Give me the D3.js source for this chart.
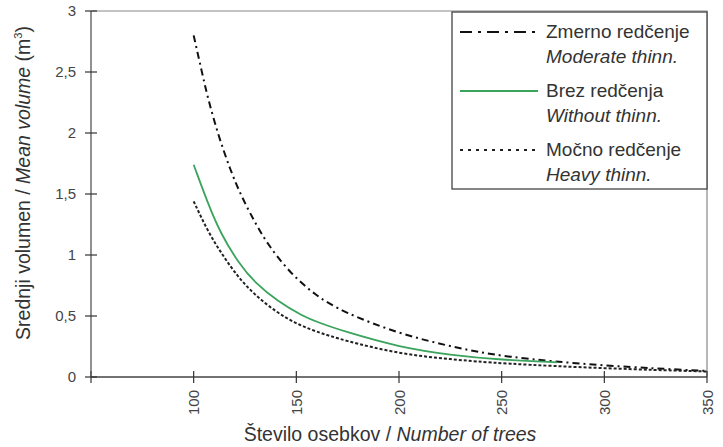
<!DOCTYPE html>
<html>
<head>
<meta charset="utf-8">
<script src="https://cdn.jsdelivr.net/npm/d3@7"></script>
<style>
  body { margin: 0; background: #fff; }
  svg { display: block; font-family: "Liberation Sans", Arial, sans-serif; }
</style>
</head>
<body>
<svg id="chart" width="723" height="447"></svg>
<script>
// number of trees / mean volume, read per series
var moderateN = [100, 104, 107, 112, 118, 123, 130, 136, 146, 159, 173, 200, 225, 250, 300, 350];
var moderateV = [2.80, 2.50, 2.28, 1.98, 1.69, 1.49, 1.26, 1.09, 0.87, 0.67, 0.53, 0.355, 0.25, 0.165, 0.09, 0.05];

var withoutN = [100, 107, 113, 122, 130, 141, 153, 161, 173, 200, 225, 250, 277];
var withoutV = [1.74, 1.42, 1.18, 0.93, 0.77, 0.62, 0.50, 0.445, 0.375, 0.245, 0.18, 0.14, 0.12];

var heavyN = [100, 107, 114, 122, 130, 140, 149, 159, 173, 200, 225, 250, 300, 350];
var heavyV = [1.44, 1.19, 1.00, 0.81, 0.67, 0.535, 0.445, 0.375, 0.30, 0.19, 0.145, 0.11, 0.07, 0.045];

var xTicks = [50, 100, 150, 200, 250, 300, 350];
var yTicks = [0, 0.5, 1, 1.5, 2, 2.5, 3];

var legendItems = [
  { name: "Zmerno redčenje", en: "Moderate thinn." },
  { name: "Brez redčenja", en: "Without thinn." },
  { name: "Močno redčenje", en: "Heavy thinn." }
];

var svg = d3.select("#chart");

var x = d3.scaleLinear().domain([50, 350]).range([91, 707]);
var y = d3.scaleLinear().domain([0, 3]).range([377, 11]);

var GREEN = "#3aa35c";
var styles = [
  { color: "#111", width: 2, dash: "7,4,2,4", legendDash: "12,6,3,6" },
  { color: GREEN, width: 1.8, dash: null, legendDash: null },
  { color: "#222", width: 2, dash: "3,2", legendDash: "3,5" }
];

// frame (top + right)
svg.append("path")
  .attr("d", "M" + x(50) + "," + y(3) + "H" + x(350) + "V" + y(0))
  .attr("fill", "none").attr("stroke", "#888").attr("stroke-width", 1.2);

// x axis
svg.append("line")
  .attr("x1", x(50)).attr("x2", x(350)).attr("y1", y(0)).attr("y2", y(0))
  .attr("stroke", "#444").attr("stroke-width", 1.3);
svg.selectAll(".xtick").data(xTicks).enter().append("line")
  .attr("x1", function(d){ return x(d); }).attr("x2", function(d){ return x(d); })
  .attr("y1", y(0) - 6).attr("y2", y(0) + 6)
  .attr("stroke", "#333").attr("stroke-width", 1.2);
svg.selectAll(".xlab").data(xTicks.filter(function(d){ return d > 50; })).enter().append("text")
  .attr("transform", function(d){ return "translate(" + (x(d) + 5.5) + "," + 390 + ") rotate(-90)"; })
  .attr("text-anchor", "end")
  .attr("font-size", 15).attr("fill", "#444")
  .text(function(d){ return d; });

// y axis
svg.append("line")
  .attr("x1", x(50)).attr("x2", x(50)).attr("y1", y(0)).attr("y2", y(3))
  .attr("stroke", "#555").attr("stroke-width", 1.3);
svg.selectAll(".ytick").data(yTicks).enter().append("line")
  .attr("x1", x(50) - 6).attr("x2", x(50) + 6)
  .attr("y1", function(d){ return y(d); }).attr("y2", function(d){ return y(d); })
  .attr("stroke", "#333").attr("stroke-width", 1.2);
svg.selectAll(".ylab").data(yTicks).enter().append("text")
  .attr("x", 76).attr("y", function(d){ return y(d) + 5; })
  .attr("text-anchor", "end")
  .attr("font-size", 15).attr("fill", "#444")
  .text(function(d){ return String(d).replace(".", ","); });

// axis titles
var xt = svg.append("text").attr("x", 390).attr("y", 441)
  .attr("text-anchor", "middle").attr("font-size", 19.5).attr("fill", "#333");
xt.append("tspan").text("Število osebkov / ");
xt.append("tspan").attr("font-style", "italic").text("Number of trees");

var yt = svg.append("text").attr("transform", "translate(30,183) rotate(-90)")
  .attr("text-anchor", "middle").attr("font-size", 19.5).attr("fill", "#333");
yt.append("tspan").text("Srednji volumen / ");
yt.append("tspan").attr("font-style", "italic").text("Mean volume");
yt.append("tspan").text(" (m");
yt.append("tspan").attr("font-size", 11).attr("dy", -8).text("3");
yt.append("tspan").attr("dy", 8).text(")");

// curves
var line = d3.line()
  .x(function(d){ return x(d[0]); })
  .y(function(d){ return y(d[1]); })
  .curve(d3.curveBasis);

var series = [
  d3.zip(moderateN, moderateV),
  d3.zip(withoutN, withoutV),
  d3.zip(heavyN, heavyV)
];

svg.selectAll(".curve").data(series).enter().append("path")
  .attr("d", line)
  .attr("fill", "none")
  .attr("stroke", function(d, i){ return styles[i].color; })
  .attr("stroke-width", function(d, i){ return styles[i].width; })
  .attr("stroke-dasharray", function(d, i){ return styles[i].dash; });

// legend
var lg = svg.append("g");
lg.append("rect").attr("x", 452).attr("y", 12).attr("width", 255).attr("height", 177)
  .attr("fill", "#fff").attr("stroke", "#444").attr("stroke-width", 1.3);

var rows = lg.selectAll(".item").data(legendItems).enter().append("g")
  .attr("transform", function(d, i){ return "translate(0," + (i * 59) + ")"; });
rows.append("line")
  .attr("x1", 460).attr("x2", 538).attr("y1", 32).attr("y2", 32)
  .attr("stroke", function(d, i){ return styles[i].color; })
  .attr("stroke-width", function(d, i){ return styles[i].width; })
  .attr("stroke-dasharray", function(d, i){ return styles[i].legendDash; });
rows.append("text").attr("x", 546).attr("y", 38)
  .attr("font-size", 19).attr("fill", "#333")
  .text(function(d){ return d.name; });
rows.append("text").attr("x", 546).attr("y", 63)
  .attr("font-size", 19).attr("font-style", "italic").attr("fill", "#333")
  .text(function(d){ return d.en; });
</script>
</body>
</html>
